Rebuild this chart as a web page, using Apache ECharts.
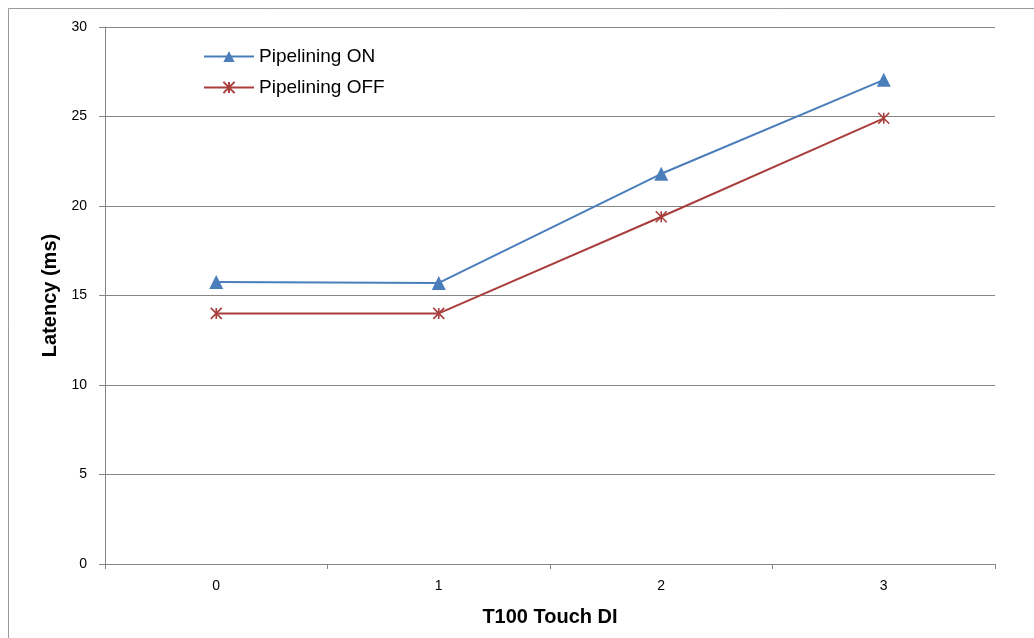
<!DOCTYPE html>
<html><head><meta charset="utf-8">
<script src="https://cdn.jsdelivr.net/npm/echarts@6/dist/echarts.min.js"></script>
<style>html,body{margin:0;padding:0;background:#fff}#c{width:1034px;height:638px}</style>
</head><body><div id="c"></div>
<script>
const categories = ['0', '1', '2', '3'];
const pipeliningOn = [15.75, 15.7, 21.8, 27.05];
const pipeliningOff = [14.0, 14.0, 19.4, 24.9];
const seriesNames = ['Pipelining ON', 'Pipelining OFF'];

const chart = echarts.init(document.getElementById('c'));
const FONT = '"Liberation Sans", Arial, sans-serif';
const AX = '#868686';
const asterisk = 'path://M0,0L10,10M10,0L0,10M5,0L5,10';
chart.setOption({
  animation: false,
  backgroundColor: '#fff',
  graphic: [{
    type: 'rect', shape: { x: 8.5, y: 8.5, width: 1100, height: 700 },
    style: { fill: 'none', stroke: '#9a9a9a', lineWidth: 1 }, silent: true, z: -1
  }],
  grid: { left: 105, right: 39, top: 27, bottom: 74 },
  legend: {
    orient: 'vertical', left: 203, top: 47, padding: 0,
    itemWidth: 50, itemHeight: 14, itemGap: 12,
    textStyle: { fontFamily: FONT, fontSize: 19, color: '#000' },
    data: seriesNames
  },
  xAxis: {
    type: 'category', data: categories, boundaryGap: true,
    name: 'T100 Touch DI', nameLocation: 'middle', nameGap: 43,
    nameTextStyle: { fontFamily: FONT, fontSize: 20, fontWeight: 'bold', color: '#000' },
    axisLine: { lineStyle: { color: AX, width: 1 } },
    axisTick: { show: true, length: 5, lineStyle: { color: AX } },
    axisLabel: { fontFamily: FONT, fontSize: 14, color: '#000', margin: 15 }
  },
  yAxis: {
    type: 'value', min: 0, max: 30, interval: 5,
    name: 'Latency (ms)', nameLocation: 'middle', nameGap: 41,
    nameTextStyle: { fontFamily: FONT, fontSize: 20, fontWeight: 'bold', color: '#000' },
    axisLine: { show: true, lineStyle: { color: AX, width: 1 } },
    axisTick: { show: true, length: 6, lineStyle: { color: AX } },
    axisLabel: { fontFamily: FONT, fontSize: 14, color: '#000', margin: 18 },
    splitLine: { show: true, lineStyle: { color: AX, width: 1 } }
  },
  series: [{
    name: seriesNames[0], type: 'line', data: pipeliningOn,
    symbol: 'triangle', symbolSize: 14,
    lineStyle: { color: '#4A7EBB', width: 2 },
    itemStyle: { color: '#4A7EBB' }
  }, {
    name: seriesNames[1], type: 'line', data: pipeliningOff,
    symbol: asterisk, symbolSize: 11,
    lineStyle: { color: '#A83F3C', width: 2 },
    itemStyle: { color: '#A83F3C', borderColor: '#A83F3C', borderWidth: 1.6 }
  }]
});
</script></body></html>
